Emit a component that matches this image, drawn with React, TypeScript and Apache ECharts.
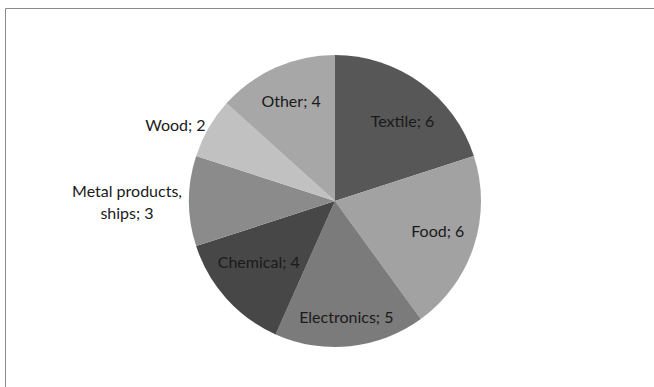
import React, { useEffect, useRef } from "react";
import * as echarts from "echarts";

const categories = ["Textile", "Food", "Electronics", "Chemical", "Metal products, ships", "Wood", "Other"];
const values = [6, 6, 5, 4, 3, 2, 4];
const colors = ["#575757", "#a2a2a2", "#7b7b7b", "#474747", "#8b8b8b", "#c1c1c1", "#a7a7a7"];
const outsideLabels = ["Metal products, ships", "Wood"];
const labelOffsets: Record<string, number[]> = {
  Textile: [4, 7],
  Food: [0, -4],
  Electronics: [0, 8],
  Chemical: [4, -12],
  Other: [0, -2],
  Wood: [0, -4],
};

const FONT = "Lato, 'Open Sans', sans-serif";
const FS = 16;

export default function App() {
  const ref = useRef<HTMLDivElement>(null);
  useEffect(() => {
    if (!ref.current) return;
    const chart = echarts.init(ref.current, undefined, { renderer: "svg" });
    const fmt = (p: any) => {
      if (p.name === "Metal products, ships") return "{c|Metal products,}\n{c|ships; " + p.value + "}";
      return p.name + "; " + p.value;
    };
    const visibleData = categories.map((name, i) => ({
      name,
      value: values[i],
      itemStyle: { color: colors[i] },
      label: outsideLabels.includes(name)
        ? { show: true, position: "outside" as const, offset: labelOffsets[name] || [0, 0] }
        : { show: false },
    }));
    const labelData = categories.map((name, i) => ({
      name,
      value: values[i],
      itemStyle: { color: "rgba(0,0,0,0)" },
      label: { show: !outsideLabels.includes(name), offset: labelOffsets[name] || [0, 0] },
    }));
    chart.setOption({
      animation: false,
      graphic: [
        {
          type: "rect",
          shape: { x: 5.5, y: 8.5, width: 800, height: 600 },
          style: { fill: "none", stroke: "#8a8a8a", lineWidth: 1 },
          z: -1,
        },
      ],
      series: [
        {
          type: "pie",
          center: [335, 201],
          radius: [0, 146],
          startAngle: 90,
          clockwise: true,
          avoidLabelOverlap: false,
          silent: true,
          itemStyle: { borderWidth: 0 },
          label: {
            show: false,
            formatter: fmt,
            color: "#1a1a1a",
            fontFamily: FONT,
            fontSize: FS,
            distanceToLabelLine: 3,
            rich: {
              c: { width: 118, align: "center", fontFamily: FONT, fontSize: FS, color: "#1a1a1a", lineHeight: 22 },
            },
          },
          labelLine: { show: false, length: 0, length2: 0 },
          data: visibleData,
        },
        {
          type: "pie",
          center: [335, 201],
          radius: [60, 150],
          startAngle: 90,
          clockwise: true,
          avoidLabelOverlap: false,
          silent: true,
          z: 3,
          label: {
            position: "inside",
            formatter: "{b}; {c}",
            color: "#1a1a1a",
            fontFamily: FONT,
            fontSize: FS,
          },
          labelLine: { show: false },
          data: labelData,
        },
      ],
    });
    return () => chart.dispose();
  }, []);
  return (
    <div
      ref={ref}
      style={{ position: "fixed", left: 0, top: 0, width: 654, height: 387, background: "#fff" }}
    />
  );
}
